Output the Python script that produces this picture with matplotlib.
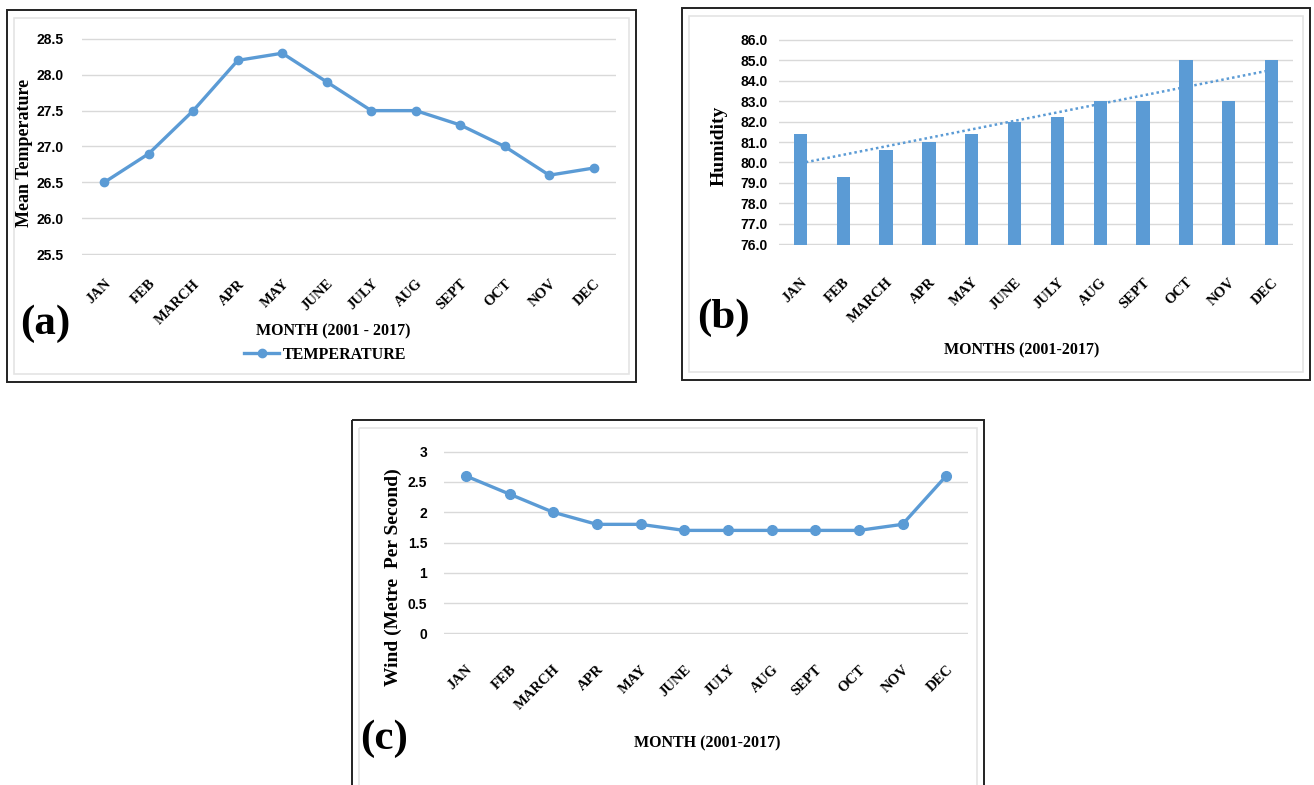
import numpy as np
import matplotlib
matplotlib.use("Agg")
import matplotlib.pyplot as plt
import matplotlib.patches as patches

# ---------- Data ----------
months = ["JAN", "FEB", "MARCH", "APR", "MAY", "JUNE", "JULY", "AUG",
          "SEPT", "OCT", "NOV", "DEC"]
temperature = [26.5, 26.9, 27.5, 28.2, 28.3, 27.9, 27.5, 27.5, 27.3, 27.0, 26.6, 26.7]
humidity = [81.4, 79.3, 80.6, 81.0, 81.4, 82.0, 82.2, 83.0, 83.0, 85.0, 83.0, 85.0]
wind = [2.6, 2.3, 2.0, 1.8, 1.8, 1.7, 1.7, 1.7, 1.7, 1.7, 1.8, 2.6]

temp_ticks = [25.5, 26.0, 26.5, 27.0, 27.5, 28.0, 28.5]
hum_ticks = list(range(76, 87))
wind_ticks = [0, 0.5, 1, 1.5, 2, 2.5, 3]

# ---------- Style ----------
W, H = 1314, 785
BLUE = "#5B9BD5"
GRID = "#D9D9D9"
SERIF = "Liberation Serif"
NARROW = ["Liberation Sans Narrow", "Liberation Sans", "DejaVu Sans"]

fig = plt.figure(figsize=(W / 100, H / 100), dpi=100)
fig.patch.set_facecolor("white")

# background canvas in pixel coordinates
bg = fig.add_axes([0, 0, 1, 1])
bg.set_xlim(0, W)
bg.set_ylim(H, 0)
bg.axis("off")


def px_axes(left, top, right, bottom):
    return fig.add_axes([left / W, 1 - bottom / H, (right - left) / W, (bottom - top) / H])


def frame(x0, y0, x1, y1):
    bg.add_patch(patches.Rectangle((x0, y0), x1 - x0, y1 - y0, fill=False,
                                   edgecolor="#222222", lw=1.4))
    bg.add_patch(patches.Rectangle((x0 + 7, y0 + 8), x1 - x0 - 14, y1 - y0 - 16,
                                   fill=False, edgecolor="#E4E4E4", lw=1.2))


def style_axes(ax, ticks, fmt, xpad, ypad):
    ax.set_xlim(-0.5, len(months) - 0.5)
    eps = (ticks[-1] - ticks[0]) * 0.004
    ax.set_ylim(ticks[0] - eps, ticks[-1] + eps)
    ax.set_yticks(ticks)
    ax.set_yticklabels([fmt.format(t) for t in ticks], fontsize=10,
                       fontweight="bold", family=NARROW)
    ax.set_xticks(range(len(months)))
    ax.set_xticklabels(months, rotation=45, ha="right", rotation_mode="anchor",
                       fontsize=10.5, fontweight="bold", family=SERIF)
    ax.tick_params(length=0)
    ax.tick_params(axis="x", pad=xpad)
    ax.tick_params(axis="y", pad=ypad)
    ax.grid(axis="y", color=GRID, lw=1)
    ax.set_axisbelow(True)
    for s in ax.spines.values():
        s.set_visible(False)


def label(x, y, s, size=11.5, rot=0):
    bg.text(x, y, s, fontsize=size, fontweight="bold", family=SERIF,
            ha="center", va="center", rotation=rot)


# ---------- Frames ----------
frame(7, 10, 636, 382)
frame(682, 8, 1310, 380)
frame(352, 420, 984, 800)

# ---------- (a) Temperature ----------
ax_a = px_axes(82, 38, 616, 255)
ax_a.plot(range(len(months)), temperature, color=BLUE, lw=2.4, marker="o",
          markersize=6, label="TEMPERATURE")
style_axes(ax_a, temp_ticks, "{:.1f}", 16, 13)
label(25, 153, "Mean Temperature", 13, 90)
label(45, 324, "(a)", 31)
label(333, 331, "MONTH (2001 - 2017)")
ax_a.legend(loc="center", bbox_to_anchor=(325 / W, 1 - 355 / H),
            bbox_transform=fig.transFigure, frameon=False, handlelength=2.2,
            handletextpad=0.2, prop={"family": SERIF, "weight": "bold", "size": 11.5})

# ---------- (b) Humidity ----------
ax_b = px_axes(779, 39, 1293, 245)
xs = np.arange(len(months))
ax_b.bar(xs, humidity, width=0.31, color=BLUE)
coef = np.polyfit(xs, humidity, 1)
ax_b.plot(xs, np.polyval(coef, xs), color=BLUE, lw=1.8, ls=(0, (1, 1.2)))
style_axes(ax_b, hum_ticks, "{:.1f}", 22, 8)
label(719, 146, "Humidity", 14, 90)
label(723, 318, "(b)", 31)
label(1022, 350, "MONTHS (2001-2017)")

# ---------- (c) Wind ----------
ax_c = px_axes(444, 451, 968, 634)
ax_c.plot(range(len(months)), wind, color=BLUE, lw=2.4, marker="o", markersize=7)
style_axes(ax_c, wind_ticks, "{:g}", 21, 12)
label(393, 577, "Wind (Metre  Per Second)", 14, 90)
label(384, 739, "(c)", 31)
label(707, 743, "MONTH (2001-2017)")

fig.savefig("out.png", dpi=100, facecolor="white")
